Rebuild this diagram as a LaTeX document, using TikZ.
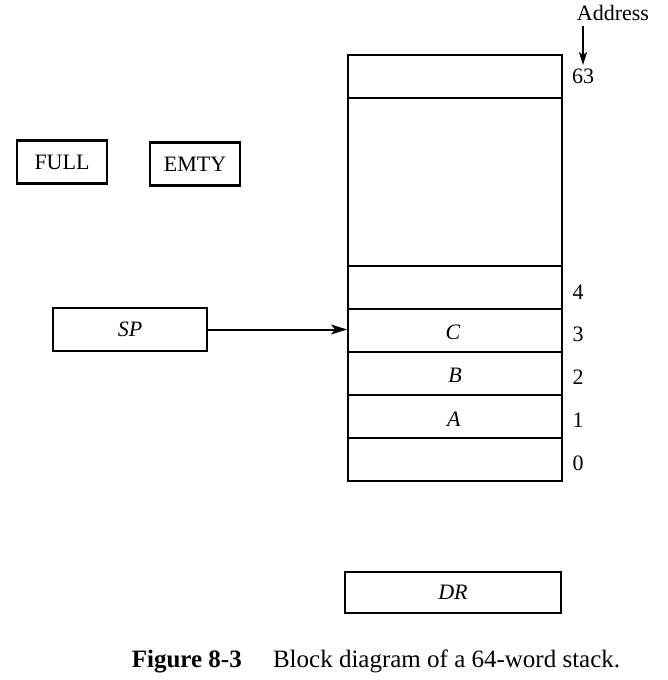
\documentclass[tikz,border=0pt]{standalone}
\usepackage{fontspec}
\setmainfont{Liberation Serif}
\usetikzlibrary{arrows.meta}
\begin{document}
\begin{tikzpicture}[x=1pt,y=-1pt,
  cell/.style={draw,line width=2pt,minimum width=214pt,minimum height=43pt,inner sep=0pt},
  flag/.style={draw,line width=2.4pt,minimum width=90pt,minimum height=43pt,inner sep=0pt,font=\fontsize{22}{24}\selectfont},
  lbl/.style={font=\fontsize{22}{24}\selectfont},
  arr/.style={line width=2pt,-{Stealth[length=16pt,width=10pt,inset=4pt]}}]
\useasboundingbox (0,0) rectangle (668,680);
% stack cells
\node[cell] (r63) at (455,76.5) {};
\node[cell,minimum height=168pt] (rmid) at (455,182) {};
\node[cell] (r4) at (455,287.5) {};
\node[cell] (r3) at (455,330.5) {};
\node[cell] (r2) at (455,373.5) {};
\node[cell] (r1) at (455,416.5) {};
\node[cell] (r0) at (455,459.5) {};
\node[lbl] (lc) at ([shift={(-2,2)}]r3.center) {\textit{C}};
\node[lbl] (lb) at ([shift={(0,2)}]r2.center) {\textit{B}};
\node[lbl] (la) at ([shift={(-1,3)}]r1.center) {\textit{A}};
% addresses
\node[lbl] (a63) at (583,76) {63};
\node[lbl] (a4) at (578,292) {4};
\node[lbl] (a3) at (578,334) {3};
\node[lbl] (a2) at (578,377) {2};
\node[lbl] (a1) at (578,420) {1};
\node[lbl] (a0) at (578,463) {0};
\node[lbl] (addr) at (613,13) {Address};
\draw[arr,-{Stealth[length=13pt,width=8pt,inset=3pt]}] (addr.south -| a63) ++(0,2) coordinate (as) -- (a63.north);
% flags
\node[flag] (full) at (62,162) {\raisebox{-2pt}{FULL}};
\node[flag] (emty) at (195,164) {\raisebox{-2pt}{EMTY}};
% SP
\node[cell,minimum width=154pt,lbl] (sp) at (130,329.5) {\raisebox{-2pt}{\textit{SP}}};
\draw[arr] (sp.east) -- (sp.east -| r3.west);
% DR
\node[cell,minimum width=216pt,minimum height=41pt,lbl] (dr) at (453,592.5) {\raisebox{-1pt}{\textit{DR}}};
% caption
\node[font=\fontsize{25}{28}\selectfont] (cap) at (376,661) {\textbf{Figure 8-3}\quad\ Block diagram of a 64-word stack.};
\end{tikzpicture}
\end{document}
